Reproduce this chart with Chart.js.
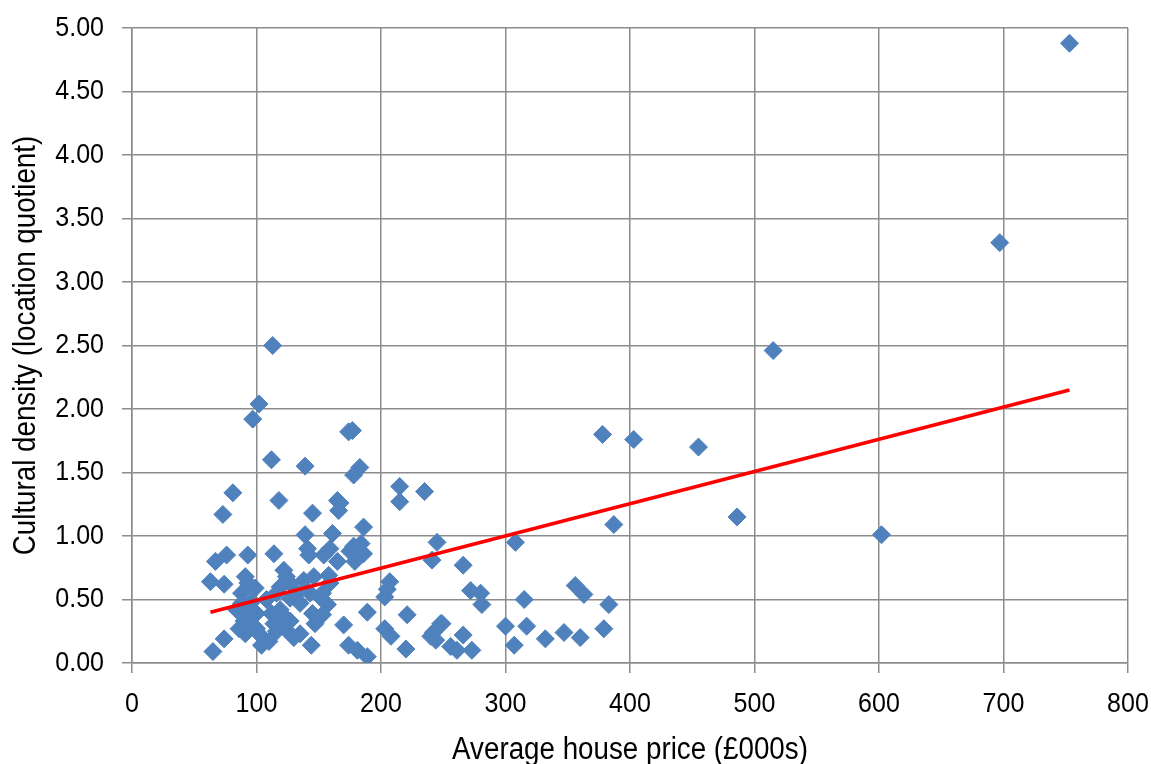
<!DOCTYPE html>
<html>
<head>
<meta charset="utf-8">
<script src="https://cdn.jsdelivr.net/npm/chart.js@4/dist/chart.umd.min.js"></script>
<style>
html,body{margin:0;padding:0;background:#fff;}
#wrap{width:1151px;height:764px;position:relative;}
</style>
</head>
<body>
<div id="wrap"><canvas id="c" width="1151" height="764"></canvas></div>
<script>
const housePrice = [
753,697,515,602,486,455,403,378,387,113,102,97,
308,245,235,241,266,272,280,281,315,356,363,383,249,242,266,256,261,273,300,317,307,332,347,360,379,
177,174,112,139,183,178,215,215,81,118,73,165,167,166,145,186,139,161,184,76,67,93,114,141,154,159,175,179,186,178,142,
63,74,91,93,99,88,122,124,127,119,116,138,146,158,159,143,153,133,127,108,96,88,84,92,100,112,119,123,114,90,86,91,100,104,116,123,127,135,145,147,153,157,151,135,144,104,74,65,189,174,181,170,189,203,207,205,221,203,208,220,240,244,248,165,
110,130,97
];
const culturalDensity = [
4.88,3.31,2.46,1.01,1.15,1.70,1.76,1.80,1.09,2.50,2.04,1.92,
0.95,0.95,1.35,0.81,0.77,0.57,0.55,0.46,0.50,0.61,0.54,0.46,0.31,0.24,0.22,0.13,0.10,0.10,0.29,0.29,0.14,0.19,0.24,0.20,0.27,
1.83,1.82,1.60,1.55,1.54,1.48,1.39,1.27,1.34,1.28,1.17,1.28,1.26,1.20,1.18,1.07,1.01,1.02,0.94,0.85,0.80,0.85,0.86,0.90,0.85,0.90,0.88,0.80,0.86,0.92,0.85,
0.64,0.62,0.68,0.63,0.59,0.55,0.73,0.68,0.63,0.60,0.55,0.65,0.68,0.69,0.63,0.55,0.55,0.55,0.51,0.50,0.48,0.47,0.42,0.38,0.39,0.39,0.42,0.36,0.31,0.33,0.27,0.23,0.27,0.21,0.25,0.27,0.33,0.47,0.39,0.31,0.38,0.46,0.52,0.23,0.14,0.14,0.19,0.09,0.05,0.14,0.10,0.30,0.40,0.52,0.64,0.58,0.38,0.27,0.21,0.11,0.21,0.18,0.31,0.80,
0.17,0.20,0.30
];
const trendX = [63, 753];
const trendY = [0.40, 2.15];
const xTicksMax = 800;
const yTicksMax = 5;

const pts = housePrice.map((x,i)=>({x:x, y:culturalDensity[i]}));
const trend = trendX.map((x,i)=>({x:x, y:trendY[i]}));

const FONT = "'Liberation Sans', Arial, sans-serif";
const gridColor = '#8c8c8c';

// Narrow the text horizontally to mimic a condensed face (text stays real canvas text)
const canvas = document.getElementById('c');
const ctx = canvas.getContext('2d');
const origFill = ctx.fillText.bind(ctx);
const NARROW = 0.895;
ctx.fillText = function(t, x, y, mw) {
  ctx.save();
  ctx.translate(x, y);
  ctx.scale(NARROW, 1);
  origFill(t, 0, 0, mw);
  ctx.restore();
};

new Chart(ctx, {
  type: 'scatter',
  data: {
    datasets: [
      {
        label: 'Data',
        data: pts,
        pointStyle: 'rectRot',
        pointRadius: 9,
        pointHoverRadius: 9,
        backgroundColor: '#4F81BD',
        borderColor: '#4F81BD',
        borderWidth: 1,
        order: 2
      },
      {
        label: 'Trend',
        type: 'line',
        data: trend,
        showLine: true,
        borderColor: '#FF0000',
        borderWidth: 3.5,
        pointRadius: 0,
        fill: false,
        order: 1
      }
    ]
  },
  options: {
    responsive: false,
    animation: false,
    devicePixelRatio: 1,
    layout: { padding: { left: 0, right: 23, top: 28, bottom: 0 } },
    plugins: { legend: { display: false }, tooltip: { enabled: false } },
    scales: {
      x: {
        type: 'linear',
        min: 0, max: xTicksMax,
        ticks: { stepSize: 100, color: '#000', font: { family: FONT, size: 28 }, padding: 14, maxRotation: 0 },
        grid: { color: gridColor, lineWidth: 1.5, tickLength: 10, tickColor: gridColor },
        border: { color: gridColor, width: 1.5 },
        title: { display: true, text: 'Average house price (£000s)', color: '#000', font: { family: FONT, size: 31 }, padding: { top: 4, bottom: -5 } },
        afterFit: (s) => { s.height = 101; s.paddingLeft = 0; s.paddingRight = 0; }
      },
      y: {
        type: 'linear',
        min: 0, max: yTicksMax,
        ticks: { stepSize: 0.5, color: '#000', font: { family: FONT, size: 28 }, padding: 18, callback: (v) => Number(v).toFixed(2) },
        grid: { color: gridColor, lineWidth: 1.5, tickLength: 10, tickColor: gridColor },
        border: { color: gridColor, width: 1.5 },
        title: { display: true, text: 'Cultural density (location quotient)', color: '#000', font: { family: FONT, size: 31 }, padding: { top: 8, bottom: 4 } },
        afterFit: (s) => { s.width = 132; s.paddingTop = 0; s.paddingBottom = 0; }
      }
    }
  }
});
</script>
</body>
</html>
